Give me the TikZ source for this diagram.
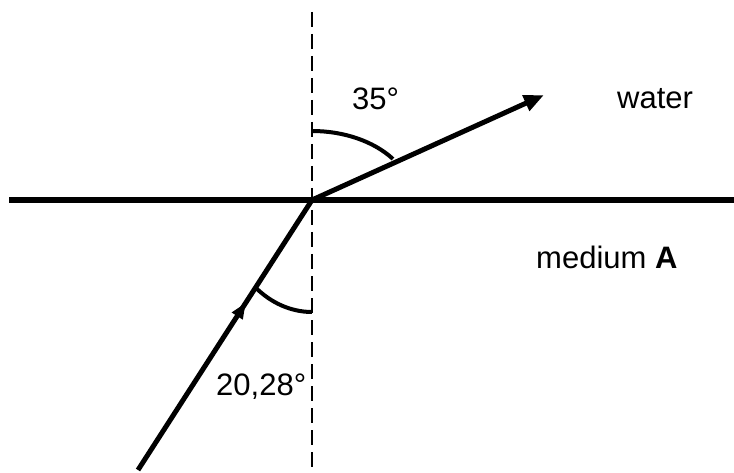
\documentclass[tikz,border=0pt]{standalone}
\usepackage{fontspec}
\setmainfont{Liberation Sans}
\usetikzlibrary{arrows.meta,decorations.markings}
\begin{document}
\begin{tikzpicture}[x=1pt,y=1pt,
  ray/.style={line width=5pt},
  boundary/.style={line width=5.3pt},
  normal/.style={line width=2.6pt,dash pattern=on 15pt off 7pt},
  anglearc/.style={line width=4pt},
  lbl/.style={anchor=base west,inner sep=0pt,font=\fontsize{31}{37}\selectfont}]
\useasboundingbox (0,0) rectangle (734,472);
% coordinates
\coordinate (O) at (312,272);
\coordinate (L) at (9,272);
\coordinate (R) at (734,272);
\coordinate (Ntop) at (312,460);
\coordinate (Nbot) at (312,2);
\coordinate (S) at (138,2);
\coordinate (T) at (544,377);
% normal (dashed)
\draw[normal] (Ntop) -- (Nbot);
% boundary
\draw[boundary] (L) -- (R);
% refracted ray
\draw[ray,-{Triangle[length=20pt,width=16pt]}] (O) -- (T);
% incident ray with mid arrow
\draw[ray,postaction={decorate},
  decoration={markings,mark=at position 0.62 with {\arrow{Triangle[length=16pt,width=12pt]}}}]
  (S) -- (O);
% angle arcs
\draw[anglearc] ([yshift=69pt]O) arc[start angle=90,end angle=36.5,x radius=100.7pt,y radius=69pt];
\draw[anglearc] ([yshift=-112pt]O) arc[start angle=270,end angle=231,x radius=90.5pt,y radius=112pt];
% labels
\node[lbl] (a1) at (352,362) {35°};
\node[lbl] (w) at (617,363) {water};
\node[lbl] (m) at (536,204) {medium \textbf{A}};
\node[lbl] (a2) at (216,77) {20,28°};
\end{tikzpicture}
\end{document}
